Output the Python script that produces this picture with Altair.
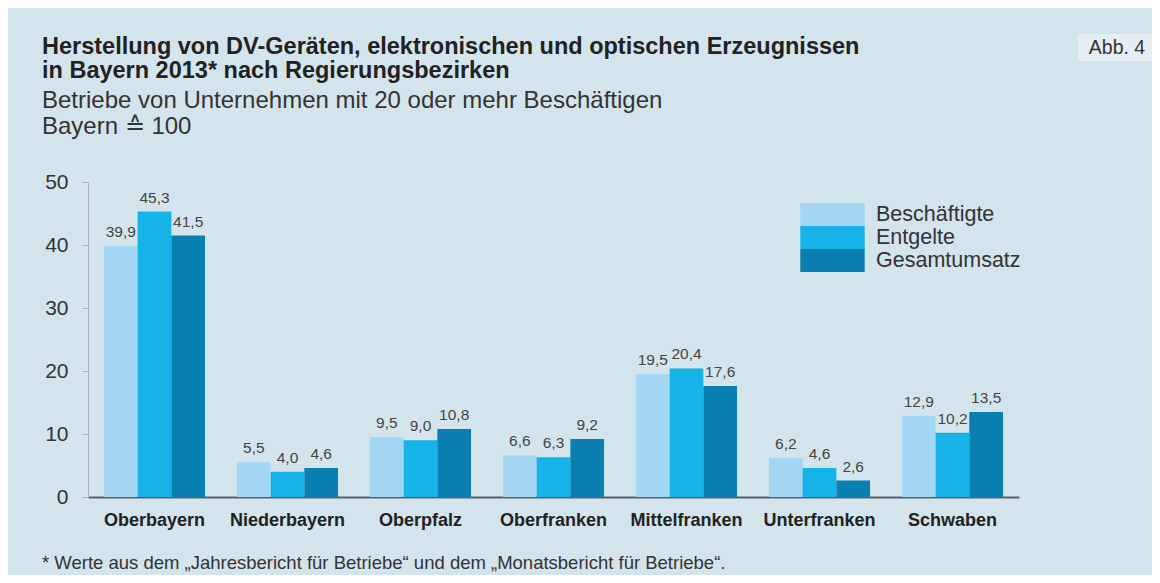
import altair as alt
import pandas as pd

# ---- data ----
regions = ["Oberbayern", "Niederbayern", "Oberpfalz", "Oberfranken",
           "Mittelfranken", "Unterfranken", "Schwaben"]
series = ["Beschäftigte", "Entgelte", "Gesamtumsatz"]
beschaeftigte = [39.9, 5.5, 9.5, 6.6, 19.5, 6.2, 12.9]
entgelte = [45.3, 4.0, 9.0, 6.3, 20.4, 4.6, 10.2]
gesamtumsatz = [41.5, 4.6, 10.8, 9.2, 17.6, 2.6, 13.5]
y_ticks = [0, 10, 20, 30, 40, 50]

title_lines = ["Herstellung von DV-Geräten, elektronischen und optischen Erzeugnissen",
               "in Bayern 2013* nach Regierungsbezirken"]
subtitle_lines = ["Betriebe von Unternehmen mit 20 oder mehr Beschäftigen",
                  "Bayern ≙ 100"]
footnote = "* Werte aus dem „Jahresbericht für Betriebe“ und dem „Monatsbericht für Betriebe“."
abb_label = "Abb. 4"

colors = ["#a3d6f3", "#16b3e8", "#0a80b2"]
FONT = "Liberation Sans"
BG = "#d4e4ec"

rows = []
for i, r in enumerate(regions):
    for s, vals in zip(series, [beschaeftigte, entgelte, gesamtumsatz]):
        v = vals[i]
        rows.append({"region": r, "series": s, "value": v,
                     "label": f"{v:.1f}".replace(".", ",")})
df = pd.DataFrame(rows)

W, H = 931, 315

x = alt.X("region:N", sort=regions,
          scale=alt.Scale(paddingInner=0.24, paddingOuter=0.12),
          axis=alt.Axis(title=None, labelAngle=0, labelFontWeight="bold",
                        labelFontSize=18, labelColor="#222", labelPadding=14,
                        domainColor="#5a6168", domainWidth=2, ticks=False,
                        labelFont=FONT))
xo = alt.XOffset("series:N", sort=series)
y = alt.Y("value:Q", scale=alt.Scale(domain=[0, 50], nice=False),
          axis=alt.Axis(title=None, values=y_ticks, grid=False, domain=True,
                        domainColor="#a9b4ba", tickColor="#a9b4ba", tickSize=6,
                        labelFontSize=21, labelColor="#333", labelPadding=14,
                        labelFont=FONT))

color = alt.Color("series:N", sort=series,
                  scale=alt.Scale(domain=series, range=colors),
                  legend=alt.Legend(orient="none", legendX=733, legendY=21,
                                    title=None,
                                    symbolType="M-2.8,-1L2.8,-1L2.8,1L-2.8,1Z",
                                    symbolSize=529, symbolStrokeWidth=0,
                                    symbolOpacity=1,
                                    labelFontSize=21.5, labelColor="#333",
                                    labelFont=FONT, rowPadding=0,
                                    labelOffset=32, padding=0))

bars = alt.Chart(df).mark_bar(opacity=1).encode(x=x, xOffset=xo, y=y, color=color)
labels = alt.Chart(df).mark_text(baseline="bottom", dy=-6, fontSize=15.5,
                                 color="#444", font=FONT).encode(
    x=x, xOffset=xo, y=y, text="label:N")


def txt(line, xv, yv, size, weight="normal", align="left", col="#222"):
    return alt.Chart(pd.DataFrame({"t": [line]})).mark_text(
        align=align, baseline="middle", fontSize=size, fontWeight=weight,
        font=FONT, color=col).encode(x=alt.value(xv), y=alt.value(yv), text="t:N")


abb_box = alt.Chart(pd.DataFrame({"t": [abb_label]})).mark_rect(color="#e4eef4").encode(
    x=alt.value(990), x2=alt.value(1064), y=alt.value(-148), y2=alt.value(-121))

layers = [
    bars, labels,
    txt(title_lines[0], -46, -135, 23.5, "bold"),
    txt(title_lines[1], -46, -111, 23.5, "bold"),
    txt(subtitle_lines[0], -46, -81, 24, col="#333"),
    txt(subtitle_lines[1], -46, -55, 24, col="#333"),
    txt(footnote, -46, 381, 18.5, col="#333"),
    abb_box,
    txt(abb_label, 1029, -134, 19.5, align="center", col="#333"),
]

chart = alt.layer(*layers).properties(
    width=W, height=H,
    padding={"left": 80, "top": 174, "right": 133, "bottom": 78},
    autosize=alt.AutoSizeParams(type="none"),
    background=BG,
).configure_view(stroke=None)

chart.save("out.html", embed_options={"renderer": "svg", "actions": False})
